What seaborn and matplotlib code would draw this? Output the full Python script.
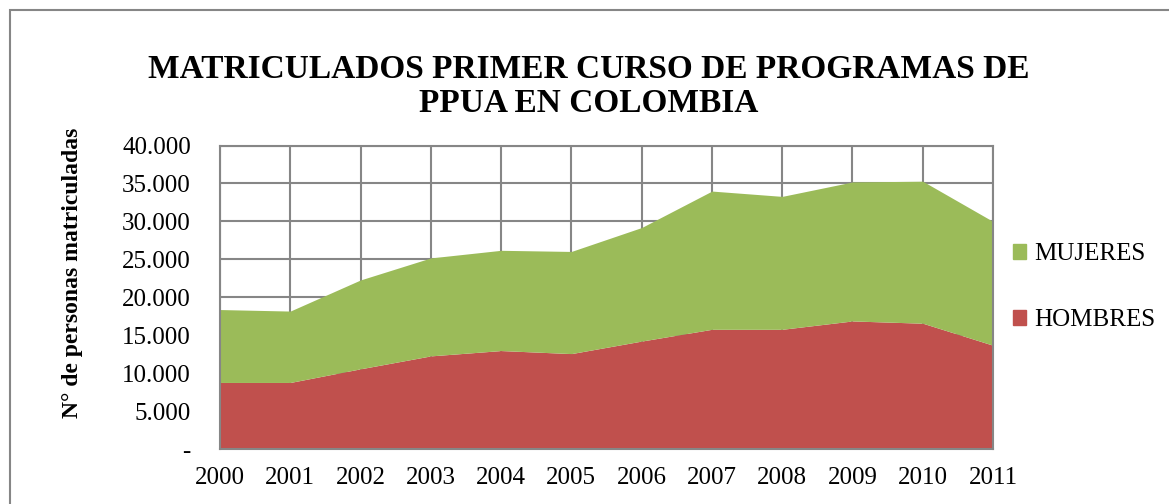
import numpy as np
import pandas as pd
import seaborn as sns
import matplotlib.pyplot as plt
from matplotlib.patches import Rectangle, Patch

years = [2000, 2001, 2002, 2003, 2004, 2005, 2006, 2007, 2008, 2009, 2010, 2011]
hombres = [8800, 8800, 10600, 12300, 13000, 12600, 14250, 15800, 15800, 16900, 16600, 13700]
mujeres = [9600, 9400, 11700, 12900, 13200, 13450, 14950, 18200, 17500, 18300, 18700, 16300]
series_names = ["HOMBRES", "MUJERES"]
colors = {"HOMBRES": "#C0504D", "MUJERES": "#9BBB59"}
y_ticks = [0, 5000, 10000, 15000, 20000, 25000, 30000, 35000, 40000]
y_labels = ["-", "5.000", "10.000", "15.000", "20.000", "25.000", "30.000", "35.000", "40.000"]

df = pd.DataFrame({"year": years, "HOMBRES": hombres, "MUJERES": mujeres})

sns.set_theme(style="white")
plt.rcParams["font.family"] = ["Liberation Serif", "DejaVu Serif"]
plt.rcParams["text.color"] = "black"
plt.rcParams["xtick.color"] = "black"
plt.rcParams["ytick.color"] = "black"

fig = plt.figure(figsize=(11.69, 5.04), dpi=100)
ax = fig.add_axes([220 / 1169, 1 - 449.3 / 504, (993 - 220) / 1169, (449.3 - 145.5) / 504])

ax.stackplot(df["year"], df["HOMBRES"], df["MUJERES"],
             colors=[colors[s] for s in series_names], linewidth=0, zorder=2)

ax.set_xlim(years[0], years[-1])
ax.set_ylim(0, 40000)
ax.set_xticks(years)
ax.set_xticklabels([str(y) for y in years], fontsize=18)
ax.set_yticks(y_ticks)
ax.set_yticklabels(y_labels, fontsize=18)
ax.tick_params(axis="x", length=0, pad=13)
ax.tick_params(axis="y", length=0, pad=21)
ax.grid(True, color="#868686", linewidth=1.5, zorder=0)
ax.set_axisbelow(True)
for sp in ax.spines.values():
    sp.set_color("#868686")
    sp.set_linewidth(1.5)

fig.text(589 / 1169, 1 - 69 / 504, "MATRICULADOS PRIMER CURSO DE PROGRAMAS DE",
         ha="center", va="center", fontsize=24, fontweight="bold")
fig.text(589 / 1169, 1 - 104 / 504, "PPUA EN COLOMBIA",
         ha="center", va="center", fontsize=24, fontweight="bold")
fig.text(73 / 1169, 1 - 273 / 504, "N° de personas matriculadas",
         ha="center", va="center", rotation=90, fontsize=17, fontweight="bold")

handles = [Patch(color=colors["MUJERES"], label="MUJERES"),
           Patch(color=colors["HOMBRES"], label="HOMBRES")]
fig.legend(handles=handles, loc="center left", bbox_to_anchor=(990 / 1169, 1 - 287 / 504),
           frameon=False, fontsize=18, handlelength=0.55, handleheight=0.55,
           handletextpad=0.3, labelspacing=1.75)

fig.add_artist(Rectangle((10 / 1169, -0.2), 1.2, 1.2 - 10 / 504,
                         transform=fig.transFigure, fill=False,
                         edgecolor="#868686", linewidth=1.5))

fig.savefig("out.png", dpi=100)
